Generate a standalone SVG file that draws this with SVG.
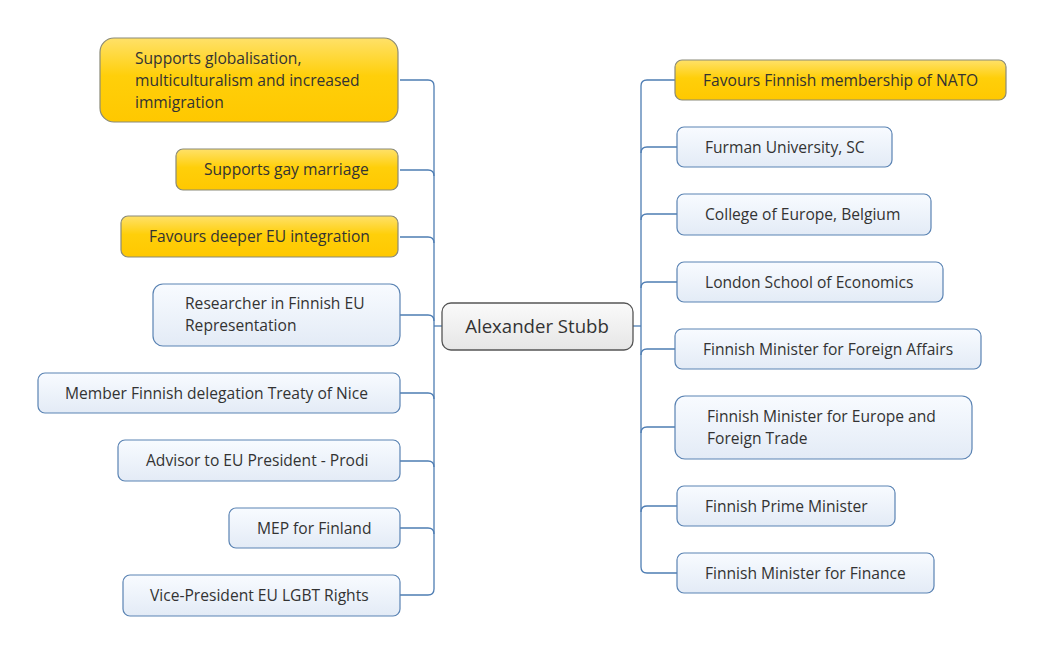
<svg xmlns="http://www.w3.org/2000/svg" width="1045" height="654" viewBox="0 0 1045 654">
<defs>
<linearGradient id="gBlue" x1="0" y1="0" x2="0" y2="1">
<stop offset="0" stop-color="#f8fbff"/>
<stop offset="1" stop-color="#e3ebf6"/>
</linearGradient>
<linearGradient id="gGold" x1="0" y1="0" x2="0" y2="1">
<stop offset="0" stop-color="#ffe169"/>
<stop offset="0.45" stop-color="#ffcf0a"/>
<stop offset="1" stop-color="#ffc800"/>
</linearGradient>
<linearGradient id="gGray" x1="0" y1="0" x2="0" y2="1">
<stop offset="0" stop-color="#fafafa"/>
<stop offset="1" stop-color="#e6e6e6"/>
</linearGradient>
</defs>
<style>
.blue{fill:url(#gBlue);stroke:#5a83b3;stroke-width:1.2}
.gold{fill:url(#gGold);stroke:#8a8a78;stroke-width:1.2}
.root{fill:url(#gGray);stroke:#555;stroke-width:1.3}
text{font-family:"Open Sans","Noto Sans","DejaVu Sans",sans-serif;font-size:15.6px;fill:#333}
.rt{font-size:18.6px}
.conn path{fill:none;stroke:#4e7db3;stroke-width:1.3}
</style>
<rect width="1045" height="654" fill="#ffffff"/>
<g class="conn" id="connectors">
<path d="M400 80 H428 Q434 80 434 86 V589 Q434 595 428 595 H400"/>
<path d="M400 170 H428 Q434 170 434 176"/>
<path d="M400 237 H428 Q434 237 434 243"/>
<path d="M400 315 H428 Q434 315 434 321"/>
<path d="M400 393 H428 Q434 393 434 399"/>
<path d="M400 461 H428 Q434 461 434 467"/>
<path d="M400 528 H428 Q434 528 434 534"/>
<path d="M434 326 H442"/>
<path d="M675 80 H647 Q641 80 641 86 V567 Q641 573 647 573 H677"/>
<path d="M641 153 Q641 147 647 147 H677"/>
<path d="M641 220 Q641 214 647 214 H677"/>
<path d="M641 288 Q641 282 647 282 H677"/>
<path d="M641 355 Q641 349 647 349 H675"/>
<path d="M641 433 Q641 427 647 427 H675"/>
<path d="M641 512 Q641 506 647 506 H677"/>
<path d="M633 326 H641"/>
</g>
<g id="root">
<rect class="root" x="442" y="303" width="191" height="47" rx="9"/>
<text class="rt" x="537" y="333" text-anchor="middle">Alexander Stubb</text>
</g>
<g id="l1">
<rect class="gold" x="100" y="38" width="298" height="84" rx="14"/>
<text x="135" y="64">Supports globalisation,</text>
<text x="135" y="86">multiculturalism and increased</text>
<text x="135" y="108">immigration</text>
</g>
<g id="l2">
<rect class="gold" x="176" y="149" width="222" height="41" rx="7"/>
<text x="204" y="175">Supports gay marriage</text>
</g>
<g id="l3">
<rect class="gold" x="121" y="216" width="277" height="41" rx="7"/>
<text x="149" y="242">Favours deeper EU integration</text>
</g>
<g id="l4">
<rect class="blue" x="153" y="284" width="247" height="62" rx="10"/>
<text x="185" y="309">Researcher in Finnish EU</text>
<text x="185" y="331">Representation</text>
</g>
<g id="l5">
<rect class="blue" x="38" y="373" width="362" height="40" rx="7"/>
<text x="65" y="399">Member Finnish delegation Treaty of Nice</text>
</g>
<g id="l6">
<rect class="blue" x="118" y="440" width="282" height="41" rx="7"/>
<text x="146" y="466">Advisor to EU President - Prodi</text>
</g>
<g id="l7">
<rect class="blue" x="229" y="508" width="171" height="40" rx="7"/>
<text x="257" y="534">MEP for Finland</text>
</g>
<g id="l8">
<rect class="blue" x="123" y="575" width="277" height="41" rx="7"/>
<text x="150" y="601">Vice-President EU LGBT Rights</text>
</g>
<g id="r1">
<rect class="gold" x="675" y="60" width="331" height="40" rx="7"/>
<text x="703" y="86">Favours Finnish membership of NATO</text>
</g>
<g id="r2">
<rect class="blue" x="677" y="127" width="215" height="40" rx="7"/>
<text x="705" y="153">Furman University, SC</text>
</g>
<g id="r3">
<rect class="blue" x="677" y="194" width="254" height="41" rx="7"/>
<text x="705" y="220">College of Europe, Belgium</text>
</g>
<g id="r4">
<rect class="blue" x="677" y="262" width="266" height="40" rx="7"/>
<text x="705" y="288">London School of Economics</text>
</g>
<g id="r5">
<rect class="blue" x="675" y="329" width="306" height="40" rx="7"/>
<text x="703" y="355">Finnish Minister for Foreign Affairs</text>
</g>
<g id="r6">
<rect class="blue" x="675" y="396" width="297" height="63" rx="10"/>
<text x="707" y="422">Finnish Minister for Europe and</text>
<text x="707" y="444">Foreign Trade</text>
</g>
<g id="r7">
<rect class="blue" x="677" y="486" width="218" height="40" rx="7"/>
<text x="705" y="512">Finnish Prime Minister</text>
</g>
<g id="r8">
<rect class="blue" x="677" y="553" width="257" height="40" rx="7"/>
<text x="705" y="579">Finnish Minister for Finance</text>
</g>
</svg>
